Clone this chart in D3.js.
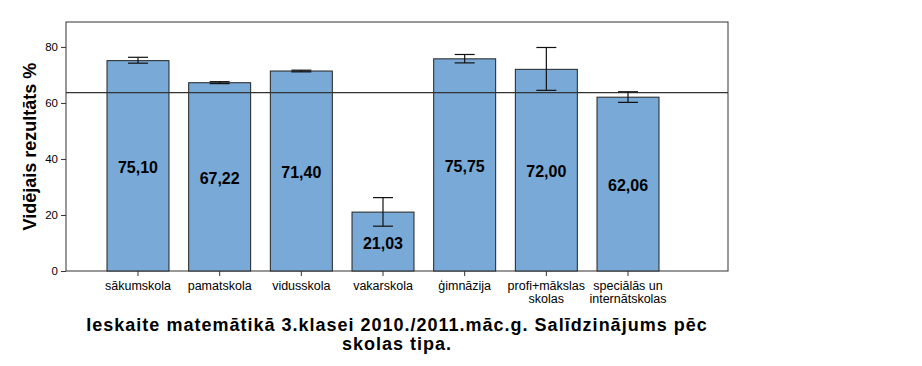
<!DOCTYPE html>
<html><head><meta charset="utf-8">
<script src="https://cdn.jsdelivr.net/npm/d3@7"></script>
<style>body{margin:0;background:#fff}svg{display:block;font-family:"Liberation Sans",Arial,sans-serif}</style>
</head><body><svg id="c" width="922" height="366"></svg>
<script>
const categories = ["sākumskola","pamatskola","vidusskola","vakarskola","ģimnāzija","profi+mākslas skolas","speciālās un internātskolas"];
const labelLines = [["sākumskola"],["pamatskola"],["vidusskola"],["vakarskola"],["ģimnāzija"],["profi+mākslas","skolas"],["speciālās un","internātskolas"]];
const means = [75.10, 67.22, 71.40, 21.03, 75.75, 72.00, 62.06];
const errLow = [74.2, 66.9, 71.1, 16.0, 74.3, 64.5, 60.2];
const errHigh = [76.3, 67.6, 71.7, 26.2, 77.3, 79.8, 64.0];
const refLine = 63.7;
const yTicks = [0, 20, 40, 60, 80];
const yTitle = "Vidējais rezultāts %";
const titleLines = ["Ieskaite matemātikā 3.klasei 2010./2011.māc.g. Salīdzinājums pēc","skolas tipa."];

const svg = d3.select("#c");
const L = 66, R = 728, T = 22, B = 271;
const x = d3.scaleBand().domain(categories).range([L, 700]).paddingInner(0.241).paddingOuter(0.502);
const y = d3.scaleLinear().domain([0, 88.9]).range([B, T]);

// frame
svg.append("rect").attr("x", L).attr("y", T).attr("width", R - L).attr("height", B - T)
  .attr("fill", "none").attr("stroke", "#333").attr("stroke-width", 1);

// bars
svg.selectAll("rect.bar").data(categories).join("rect").attr("class", "bar")
  .attr("x", d => x(d)).attr("width", x.bandwidth())
  .attr("y", (d, i) => y(means[i])).attr("height", (d, i) => y(0) - y(means[i]))
  .attr("fill", "#79a9d6").attr("stroke", "#222").attr("stroke-width", 1);

// reference line
svg.append("line").attr("x1", L).attr("x2", R).attr("y1", y(refLine)).attr("y2", y(refLine))
  .attr("stroke", "#333").attr("stroke-width", 1.3);

// error bars
const eb = svg.append("g").attr("stroke", "#111").attr("stroke-width", 1.2);
categories.forEach((c, i) => {
  const cx = x(c) + x.bandwidth() / 2;
  eb.append("line").attr("x1", cx).attr("x2", cx).attr("y1", y(errLow[i])).attr("y2", y(errHigh[i]));
  eb.append("line").attr("x1", cx - 10).attr("x2", cx + 10).attr("y1", y(errLow[i])).attr("y2", y(errLow[i]));
  eb.append("line").attr("x1", cx - 10).attr("x2", cx + 10).attr("y1", y(errHigh[i])).attr("y2", y(errHigh[i]));
});

// value labels
svg.selectAll("text.val").data(categories).join("text").attr("class", "val")
  .attr("x", d => x(d) + x.bandwidth() / 2)
  .attr("y", (d, i) => (y(means[i]) + y(0)) / 2 + 7)
  .attr("text-anchor", "middle").attr("font-size", 16).attr("font-weight", "bold").attr("fill", "#000")
  .text((d, i) => means[i].toFixed(2).replace(".", ","));

// y axis
const ya = svg.append("g").attr("transform", `translate(${L},0)`)
  .call(d3.axisLeft(y).tickValues(yTicks).tickSize(5).tickPadding(3).tickFormat(d3.format("d")));
ya.select(".domain").remove();
ya.selectAll("line").attr("stroke", "#333");
ya.selectAll("text").attr("font-size", 11.5).attr("font-family", "Liberation Sans, Arial, sans-serif").attr("fill", "#000");

// x axis
const xa = svg.append("g").attr("transform", `translate(0,${B})`)
  .call(d3.axisBottom(x).tickSize(5).tickFormat(""));
xa.select(".domain").remove();
xa.selectAll("line").attr("stroke", "#333");
categories.forEach((c, i) => {
  const t = svg.append("text").attr("x", x(c) + x.bandwidth() / 2).attr("y", 290)
    .attr("text-anchor", "middle").attr("font-size", 12.5).attr("fill", "#000");
  labelLines[i].forEach((ln, k) => t.append("tspan").attr("x", x(c) + x.bandwidth() / 2).attr("dy", k ? 13 : 0).text(ln));
});

// y title
svg.append("text").attr("transform", `translate(36,${(T + B) / 2}) rotate(-90)`)
  .attr("text-anchor", "middle").attr("font-size", 18).attr("font-weight", "bold").text(yTitle);

// title
titleLines.forEach((t, k) => svg.append("text").attr("x", (L + R) / 2).attr("y", 331 + k * 19)
  .attr("text-anchor", "middle").attr("font-size", 18).attr("font-weight", "bold")
  .attr("letter-spacing", 1.0).text(t));
</script></body></html>
